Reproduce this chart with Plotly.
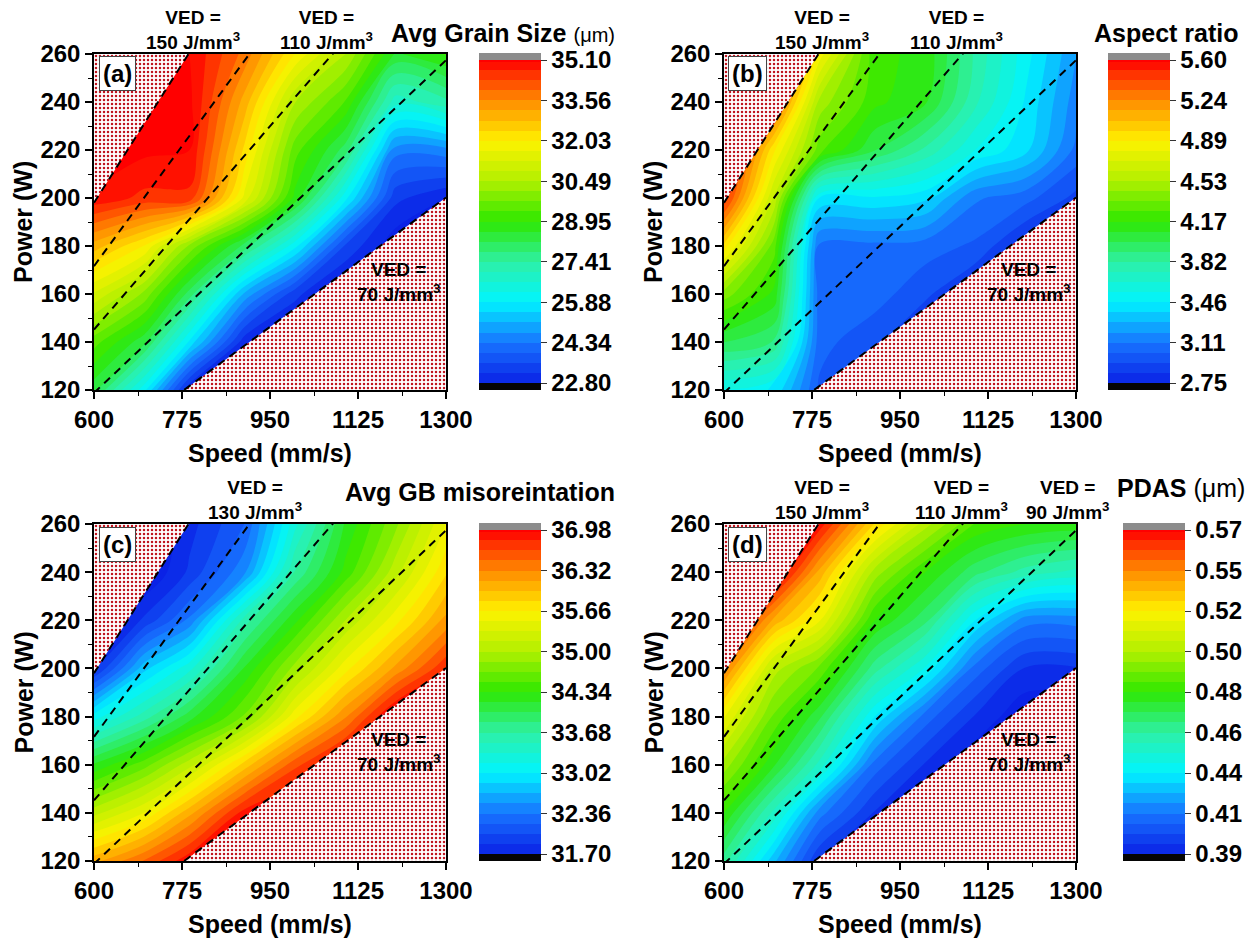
import plotly.graph_objects as go

# ---------------- data ----------------
SPEED = [600, 700, 790, 900, 1000, 1100, 1200, 1300]          # mm/s
POWER = [120, 140, 160, 180, 200, 220, 240, 260]              # W

# rows follow POWER (bottom -> top), columns follow SPEED
GRAIN_SIZE = [
    [28.3, 26.0, 22.8, 22.5, 22.5, 22.5, 22.5, 22.5],
    [29.5, 28.3, 25.8, 22.9, 22.5, 22.5, 22.5, 22.5],
    [31.2, 30.0, 28.0, 25.0, 23.3, 22.5, 22.5, 22.5],
    [33.0, 32.0, 30.0, 28.0, 26.0, 23.5, 22.5, 22.5],
    [35.0, 34.6, 34.6, 31.5, 28.8, 26.0, 23.3, 22.8],
    [35.5, 35.2, 35.1, 32.3, 29.5, 28.0, 24.5, 24.6],
    [35.5, 35.5, 35.2, 33.0, 30.5, 29.3, 26.8, 27.3],
    [35.5, 35.5, 35.1, 33.8, 32.0, 30.5, 28.5, 29.0],
]
ASPECT_RATIO = [
    [3.55, 3.45, 3.00, 2.80, 2.80, 2.80, 2.80, 2.80],
    [4.00, 3.90, 3.05, 2.95, 2.80, 2.80, 2.80, 2.80],
    [4.40, 4.15, 3.05, 3.06, 2.95, 2.80, 2.80, 2.80],
    [4.95, 4.30, 3.08, 3.08, 3.06, 3.00, 2.80, 2.80],
    [5.50, 4.60, 3.45, 3.45, 3.40, 3.12, 3.05, 2.90],
    [5.70, 4.90, 4.30, 4.00, 3.80, 3.55, 3.40, 3.08],
    [5.70, 5.40, 4.50, 4.20, 4.10, 3.75, 3.45, 3.15],
    [5.70, 5.60, 4.85, 4.20, 4.15, 3.80, 3.50, 3.20],
]
GB_MISOR = [
    [36.1, 36.5, 36.95, 37.1, 37.1, 37.1, 37.1, 37.1],
    [35.1, 35.5, 36.1, 36.9, 37.1, 37.1, 37.1, 37.1],
    [34.2, 34.6, 35.1, 35.9, 36.6, 37.1, 37.1, 37.1],
    [33.1, 33.6, 34.1, 34.7, 35.6, 36.3, 37.1, 37.1],
    [31.8, 32.8, 33.3, 34.2, 34.9, 35.6, 36.2, 36.8],
    [31.5, 31.9, 32.4, 33.6, 34.3, 35.0, 35.6, 36.2],
    [31.5, 31.5, 31.9, 32.5, 33.7, 34.4, 35.1, 35.8],
    [31.5, 31.5, 31.8, 32.2, 33.3, 34.2, 34.8, 35.5],
]
PDAS = [
    [0.460, 0.425, 0.395, 0.385, 0.385, 0.385, 0.385, 0.385],
    [0.480, 0.450, 0.415, 0.395, 0.385, 0.385, 0.385, 0.385],
    [0.500, 0.475, 0.450, 0.410, 0.395, 0.385, 0.385, 0.385],
    [0.520, 0.490, 0.470, 0.435, 0.410, 0.395, 0.385, 0.385],
    [0.550, 0.505, 0.490, 0.460, 0.440, 0.410, 0.395, 0.395],
    [0.575, 0.540, 0.520, 0.480, 0.465, 0.435, 0.415, 0.415],
    [0.575, 0.575, 0.540, 0.500, 0.480, 0.465, 0.455, 0.450],
    [0.575, 0.575, 0.568, 0.530, 0.505, 0.485, 0.480, 0.478],
]

TICKS_GRAIN = ["22.80", "24.34", "25.88", "27.41", "28.95", "30.49", "32.03", "33.56", "35.10"]
TICKS_ASPECT = ["2.75", "3.11", "3.46", "3.82", "4.17", "4.53", "4.89", "5.24", "5.60"]
TICKS_MISOR = ["31.70", "32.36", "33.02", "33.68", "34.34", "35.00", "35.66", "36.32", "36.98"]
TICKS_PDAS = ["0.39", "0.41", "0.44", "0.46", "0.48", "0.50", "0.52", "0.55", "0.57"]

VED_LINES = [150, 130, 110, 90, 70]     # J/mm^3
VED_MIN, VED_MAX = 70, 150
HATCH_X_LAYER = 0.0022                  # mm^2  (VED = P / (v * h * t))

X_TICKS = [600, 775, 950, 1125, 1300]

# ---------------- styling ----------------
W, H = 1258, 939
FONT = "Liberation Sans, Arial, sans-serif"
RAINBOW = [[0.0, "#0a22e6"], [0.125, "#1873ff"], [0.25, "#00f4ff"],
           [0.375, "#2ef0a6"], [0.5, "#2ee800"], [0.625, "#b2f000"],
           [0.75, "#fff200"], [0.875, "#ff8a00"], [1.0, "#ff0000"]]


def fx(px):
    return px / W


def fy(py):
    return 1 - py / H


panels = [
    dict(z=GRAIN_SIZE, ticks=TICKS_GRAIN, box=(94, 446, 54, 390), cbx=479,
         label="(a)",
         title="Avg Grain Size <span style='font-size:20px;font-weight:normal'>(\u03bcm)</span>",
         title_pos=(617, 33),
         top_labels=[(150, 193), (110, 326)]),
    dict(z=ASPECT_RATIO, ticks=TICKS_ASPECT, box=(724, 1076, 54, 390), cbx=1108,
         label="(b)", title="Aspect ratio", title_pos=(1240, 33),
         top_labels=[(150, 822), (110, 956)]),
    dict(z=GB_MISOR, ticks=TICKS_MISOR, box=(94, 446, 524, 861), cbx=479,
         label="(c)", title="Avg GB misoreintation", title_pos=(617, 492),
         top_labels=[(130, 255)]),
    dict(z=PDAS, ticks=TICKS_PDAS, box=(724, 1076, 524, 861), cbx=1123,
         label="(d)",
         title="PDAS <span style='font-weight:normal'>(\u03bcm)</span>",
         title_pos=(1247, 488),
         top_labels=[(150, 822), (110, 962), (90, 1067)]),
]

fig = go.Figure()
annotations = []
shapes = []
layout_axes = {}

for i, p in enumerate(panels):
    n = "" if i == 0 else str(i + 1)
    xa, ya = "x" + n, "y" + n
    x0, x1, y0, y1 = p["box"]
    vals = [float(t) for t in p["ticks"]]
    zmin, zmax = vals[0], vals[-1]
    nlev = 32
    tickpos = [zmin + k * (zmax - zmin) / 8 for k in range(9)]

    cb_top, cb_bot = y0 + 6, y1 - 7
    fig.add_trace(go.Contour(
        x=SPEED, y=POWER, z=p["z"], xaxis=xa, yaxis=ya,
        colorscale=RAINBOW, zmin=zmin, zmax=zmax,
        contours=dict(coloring="fill", showlines=False, start=zmin, end=zmax,
                      size=(zmax - zmin) / nlev),
        line=dict(width=0),
        colorbar=dict(
            x=fx(p["cbx"]), xanchor="left", thickness=62, thicknessmode="pixels",
            len=(cb_bot - cb_top) / H, lenmode="fraction",
            y=fy((cb_top + cb_bot) / 2), yanchor="middle", ypad=0, xpad=0,
            outlinewidth=0, tickvals=tickpos, ticktext=p["ticks"],
            ticks="outside", ticklen=6, tickwidth=1, tickcolor="#333",
            tickfont=dict(family=FONT, size=24, color="black", weight="bold"),
        ),
        hoverinfo="skip",
    ))
    # over / under range caps of the colour bar
    shapes.append(dict(type="rect", xref="paper", yref="paper",
                       x0=fx(p["cbx"]), x1=fx(p["cbx"] + 62),
                       y0=fy(cb_top), y1=fy(y0 - 1), fillcolor="#8c8c8c",
                       line=dict(width=0)))
    shapes.append(dict(type="rect", xref="paper", yref="paper",
                       x0=fx(p["cbx"]), x1=fx(p["cbx"] + 62),
                       y0=fy(y1), y1=fy(cb_bot), fillcolor="#050505",
                       line=dict(width=0)))

    # hatched (excluded) regions outside the VED window
    xmin, xmax = X_TICKS[0], X_TICKS[-1]
    ymin, ymax = POWER[0], POWER[-1]
    hi = VED_MAX * HATCH_X_LAYER
    lo = VED_MIN * HATCH_X_LAYER
    pattern = dict(shape=".", fgcolor="#c0141e", bgcolor="#ffffff",
                   size=4, solidity=0.3, fillmode="replace")
    fig.add_trace(go.Scatter(
        x=[xmin, xmin, ymax / hi, xmin], y=[xmin * hi, ymax, ymax, xmin * hi],
        fill="toself", fillpattern=pattern, mode="lines", line=dict(width=0),
        xaxis=xa, yaxis=ya, hoverinfo="skip"))
    fig.add_trace(go.Scatter(
        x=[ymin / lo, xmax, xmax, ymin / lo], y=[ymin, ymin, xmax * lo, ymin],
        fill="toself", fillpattern=pattern, mode="lines", line=dict(width=0),
        xaxis=xa, yaxis=ya, hoverinfo="skip"))

    # dashed iso-VED lines
    for ved in VED_LINES:
        k = ved * HATCH_X_LAYER
        fig.add_trace(go.Scatter(
            x=[xmin, xmax], y=[xmin * k, xmax * k], mode="lines",
            line=dict(color="black", width=2, dash="8px,6px"),
            xaxis=xa, yaxis=ya, hoverinfo="skip"))

    axis_common = dict(showline=True, linecolor="black", linewidth=1.5, mirror=True,
                       ticks="outside", ticklen=7, tickwidth=1.5, tickcolor="black",
                       showgrid=False, zeroline=False, automargin=False,
                       tickfont=dict(family=FONT, size=24, color="black", weight="bold"))
    layout_axes["xaxis" + n] = dict(
        axis_common, domain=[fx(x0), fx(x1)], range=[xmin, xmax],
        anchor=ya, tickvals=X_TICKS,
        minor=dict(ticks="outside", ticklen=4, tickwidth=1.2, tickcolor="black",
                   tick0=xmin, dtick=(X_TICKS[1] - X_TICKS[0]) / 2))
    layout_axes["yaxis" + n] = dict(
        axis_common, domain=[fy(y1), fy(y0)], range=[ymin, ymax],
        anchor=xa, tick0=ymin, dtick=20,
        minor=dict(ticks="outside", ticklen=4, tickwidth=1.2, tickcolor="black",
                   tick0=ymin, dtick=10))

    # axis titles
    annotations.append(dict(text="<b>Speed (mm/s)</b>", xref="paper", yref="paper",
                            x=fx((x0 + x1) / 2), y=fy(y1 + 63), showarrow=False,
                            font=dict(family=FONT, size=25, color="black"),
                            xanchor="center", yanchor="middle"))
    annotations.append(dict(text="<b>Power (W)</b>", xref="paper", yref="paper",
                            x=fx(x0 - 71), y=fy((y0 + y1) / 2), showarrow=False,
                            textangle=-90,
                            font=dict(family=FONT, size=25, color="black"),
                            xanchor="center", yanchor="middle"))
    # panel letter
    annotations.append(dict(text="<b>%s</b>" % p["label"], xref="paper", yref="paper",
                            x=fx(x0 + 23), y=fy(y0 + 20), showarrow=False,
                            font=dict(family=FONT, size=24, color="black"),
                            bgcolor="white", bordercolor="#444", borderwidth=1,
                            borderpad=3, xanchor="center", yanchor="middle"))
    # colour bar title
    tx, ty = p["title_pos"]
    annotations.append(dict(text="<b>%s</b>" % p["title"], xref="paper", yref="paper",
                            x=fx(tx), y=fy(ty), showarrow=False,
                            font=dict(family=FONT, size=25, color="black"),
                            xanchor="right", yanchor="middle"))
    # VED labels
    for ved, lx in p["top_labels"]:
        annotations.append(dict(text="<b>VED =<br>%d J/mm<sup>3</sup></b>" % ved,
                                xref="paper", yref="paper", x=fx(lx), y=fy(y0 - 24),
                                showarrow=False,
                                font=dict(family=FONT, size=19, color="black"),
                                xanchor="center", yanchor="middle"))
    annotations.append(dict(text="<b>VED =<br>%d J/mm<sup>3</sup></b>" % VED_MIN,
                            xref="paper", yref="paper", x=fx(x0 + 304),
                            y=fy(y0 + 228), showarrow=False,
                            font=dict(family=FONT, size=19, color="black"),
                            xanchor="center", yanchor="middle"))

fig.update_layout(width=W, height=H,
                  margin=dict(l=0, r=0, t=0, b=0, autoexpand=False),
                  paper_bgcolor="white", plot_bgcolor="white", showlegend=False,
                  annotations=annotations, shapes=shapes, **layout_axes)
fig.write_html("out.html")
